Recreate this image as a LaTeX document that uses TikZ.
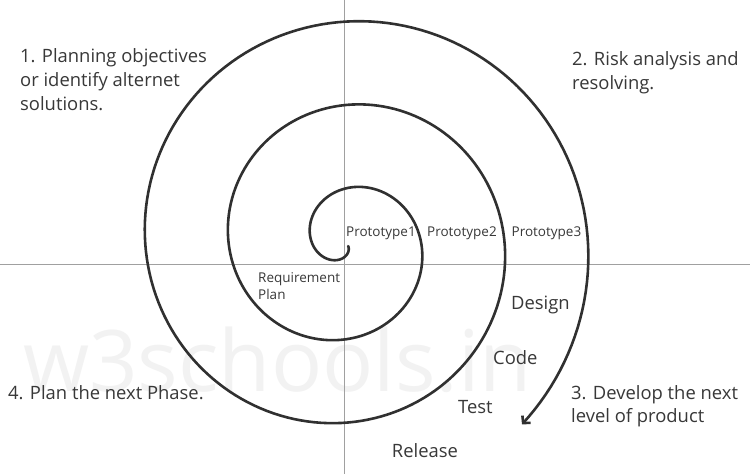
\documentclass[tikz,border=0pt]{standalone}
\usepackage{fontspec}
\setmainfont{Open Sans}
\usetikzlibrary{arrows.meta}
\definecolor{txt}{HTML}{383838}
\definecolor{spir}{HTML}{303030}
\definecolor{axis}{HTML}{A0A0A0}
\definecolor{wm}{HTML}{F2F2F2}
\begin{document}
\begin{tikzpicture}[x=1pt,y=1pt,
  big/.style={font=\fontsize{18.4}{22}\selectfont, text=txt, inner sep=0pt, anchor=base west},
  small/.style={font=\fontsize{13.5}{16}\selectfont, text=txt, inner sep=0pt, anchor=base west},
  axisline/.style={draw=axis, line width=0.9pt},
  spiralline/.style={draw=spir, line width=2.6pt, line cap=round, -{Straight Barb[length=5pt,width=11pt]}}]
\fill[white] (0,0) rectangle (750,474);
\useasboundingbox (0,0) rectangle (750,474);
\node[font=\fontsize{85}{90}\selectfont, text=wm, inner sep=0pt, anchor=base west] (wm) at (23,82) {w3schools.in};
\coordinate (vt) at (344.7,474);
\coordinate (vb) at (344.7,0);
\coordinate (hl) at (0,209.5);
\coordinate (hr) at (750,209.5);
\draw[axisline] (vt) -- (vb);
\draw[axisline] (hl) -- (hr);
\draw[spiralline] plot[domain=-1.43:10.51, samples=500, variable=\k]
  ({345.75+(33.75+20.85*\k)*cos(180-90*\k)}, {231+(33.75+20.85*\k)*sin(180-90*\k)});
\node[big] (q1a) at (20,411) {1. Planning objectives};
\node[big] (q1b) at (20,387) {or identify alternet};
\node[big] (q1c) at (20,363) {solutions.};
\node[big] (q2a) at (572,408) {2. Risk analysis and};
\node[big] (q2b) at (572,384) {resolving.};
\node[big] (q4) at (8,74) {4. Plan the next Phase.};
\node[big] (q3a) at (571,74) {3. Develop the next};
\node[big] (q3b) at (571,51) {level of product};
\node[small] (p1) at (346,237) {Prototype1};
\node[small] (p2) at (427,237) {Prototype2};
\node[small] (p3) at (511.5,237) {Prototype3};
\node[small] (rq1) at (258,191.7) {Requirement};
\node[small] (rq2) at (258,174.7) {Plan};
\node[big] (design) at (511,164) {Design};
\node[big] (code) at (493,109) {Code};
\node[big] (test) at (458,60.7) {Test};
\node[big] (release) at (391.7,16.3) {Release};
\end{tikzpicture}
\end{document}
